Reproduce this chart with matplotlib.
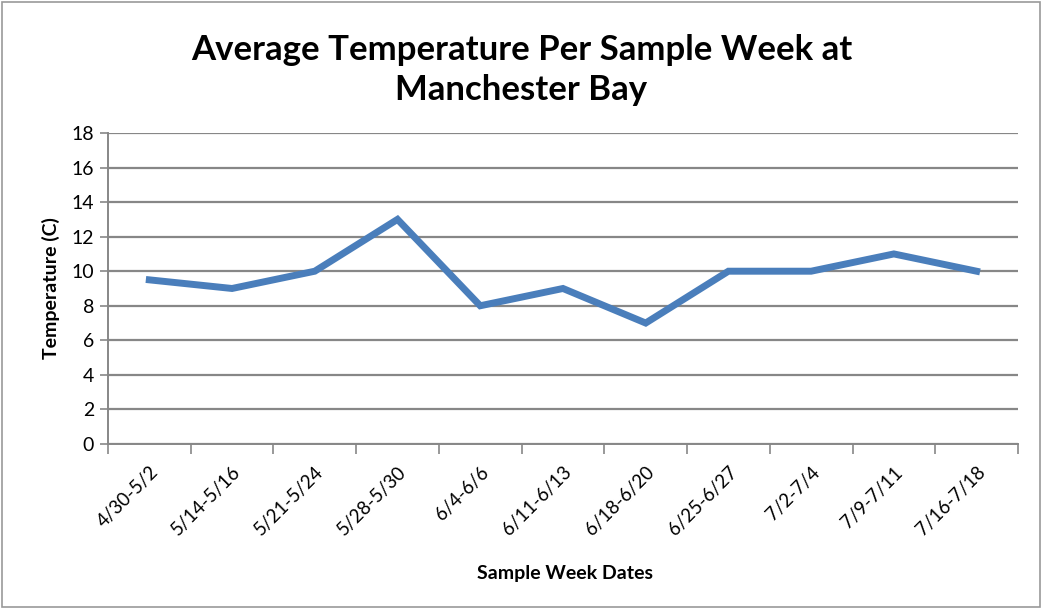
import matplotlib
matplotlib.use("Agg")
import matplotlib.pyplot as plt
from matplotlib.patches import Rectangle

weeks = ["4/30-5/2", "5/14-5/16", "5/21-5/24", "5/28-5/30", "6/4-6/6",
         "6/11-6/13", "6/18-6/20", "6/25-6/27", "7/2-7/4", "7/9-7/11", "7/16-7/18"]
temps = [9.5, 9, 10, 13, 8, 9, 7, 10, 10, 11, 10]
yticks = [0, 2, 4, 6, 8, 10, 12, 14, 16, 18]

plt.rcParams['font.family'] = ['Lato', 'DejaVu Sans']
grid_col = "#878787"

fig = plt.figure(figsize=(10.43, 6.09), dpi=100)
fig.patches.append(Rectangle((0.002, 0.003), 0.995, 0.994, transform=fig.transFigure,
                             fill=False, edgecolor="#999999", linewidth=1.2))

ax = fig.add_axes([0.1035, 0.271, 0.8725, 0.5106])
x = list(range(len(weeks)))
ax.plot(x, temps, color="#4a7ebb", linewidth=5, solid_joinstyle="miter", zorder=3)

ax.set_xlim(-0.5, len(weeks) - 0.5)
ax.set_ylim(0, 18)
ax.set_yticks(yticks)
ax.set_yticklabels([str(v) for v in yticks], fontsize=14)
ax.yaxis.grid(True, color=grid_col, linewidth=1.6)
ax.set_axisbelow(True)

# category boundaries as tick marks, labels at centers
ax.set_xticks([i - 0.5 for i in range(len(weeks) + 1)])
ax.set_xticklabels([])
ax.set_xticks(x, minor=True)
ax.set_xticklabels(weeks, minor=True, rotation=45, ha="right",
                   rotation_mode="anchor", fontsize=13.5)
ax.tick_params(axis="x", which="minor", length=0, pad=14)
ax.tick_params(axis="x", which="major", length=7, color=grid_col, width=1.2)
ax.tick_params(axis="y", length=6, color=grid_col, width=1.2, pad=4)

for s in ["top", "right"]:
    ax.spines[s].set_visible(False)
for s in ["left", "bottom"]:
    ax.spines[s].set_color(grid_col)
    ax.spines[s].set_linewidth(1.4)

ax.set_ylabel("Temperature (C)", fontsize=14, fontweight="bold", labelpad=8)
fig.text(0.542, 0.058, "Sample Week Dates", ha="center", va="center",
         fontsize=14, fontweight="bold")
fig.text(0.5, 0.885, "Average Temperature Per Sample Week at\nManchester Bay",
         ha="center", va="center", fontsize=25, fontweight="bold", linespacing=1.3)

fig.savefig("out.png", dpi=100)
